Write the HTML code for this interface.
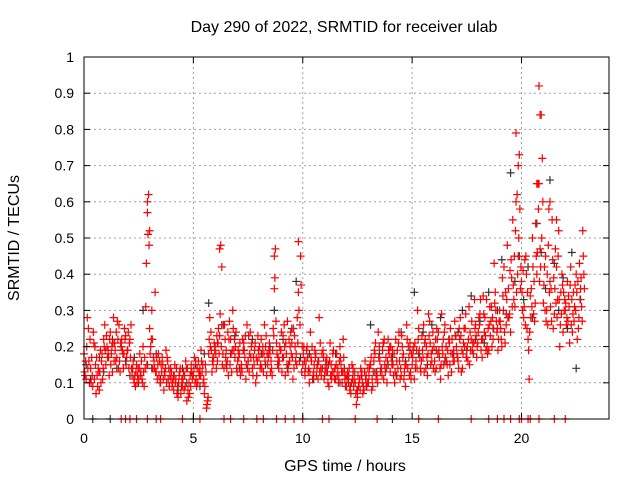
<!DOCTYPE html>
<html><head><meta charset="utf-8"><style>
body{margin:0;background:#fff}
svg text{font-family:"Liberation Sans",Arial,sans-serif;font-size:14px;fill:#000}
svg text.big{font-size:16px}
</style></head><body>
<svg id="chart" width="640" height="480" viewBox="0 0 640 480">
<rect width="640" height="480" fill="#fff"/>
<g id="grid"></g>
<g id="pts"></g>
<rect x="84" y="57" width="525" height="362" fill="none" stroke="#000" stroke-width="1"/>
<g id="axes"></g>
<text class="big" x="344" y="32" text-anchor="middle">Day 290 of 2022, SRMTID for receiver ulab</text>
<text class="big" x="345" y="471" text-anchor="middle">GPS time / hours</text>
<text class="big" transform="translate(19,238) rotate(-90)" text-anchor="middle">SRMTID / TECUs</text>
</svg>
<script>
const xTicks=[0,5,10,15,20];
const yTicks=[0,0.1,0.2,0.3,0.4,0.5,0.6,0.7,0.8,0.9,1];
const yTickLabels=["0","0.1","0.2","0.3","0.4","0.5","0.6","0.7","0.8","0.9","1"];
const redA=[.18,.11,.25,.14,.09,.20,.12,.08,.16,.22,.15,.19,.24,.13,.21,.17,.26,.20,.14,.23,.19,.22,.12,.10,.15,.11,.13,.20,.14,.57,.25,.30,.16,.13,.18,.10,.15,.12,.17,.09,.13,.08,.11,.06,.14,.09,.12,.05,.10,.15,.12,.16,.10,.14,.13,.07,.03,.18,.24,.15,.20,.16,.23,.42,.14,.19,.12,.22,.30,.17,.13,.18,.15,.21,.11,.16,.24,.14,.19,.12,.17,.22,.13,.20,.15,.18,.12,.36,.21,.14,.19,.23,.12,.27,.16,.21,.14,.18,.35,.45,.15,.12,.20,.10,.16,.13,.18,.11,.21,.14,.12,.17,.09,.15,.19,.11,.14,.20,.10,.13,.09,.12,.07,.14,.10,.06,.11,.13,.08,.12,.10,.15,.09,.18,.12,.20,.14,.11,.17,.22,.13,.19,.10,.16,.24,.12,.18,.09,.14,.21,.15,.11,.19,.25,.13,.17,.22,.12,.27,.16,.20,.14,.24,.11,.18,.26,.15,.21,.13,.19,.23,.16,.28,.14,.20,.17,.31,.22,.18,.26,.21,.29,.17,.24,.33,.19,.27,.22,.35,.25,.30,.20,.42,.26,.36,.24,.55,.31,.62,.73,.38,.28,.45,.22,.34,.50,.27,.40,.65,.84,.32,.45,.26,.38,.55,.29,.42,.52,.35,.24,.30,.38,.21,.33,.27,.40,.25,.36,.52];
const redB=[.12,.28,.10,.17,.21,.07,.14,.19,.11,.26,.20,.12,.18,.28,.16,.22,.13,.19,.25,.17,.14,.26,.16,.09,.12,.18,.11,.09,.43,.62,.20,.14,.35,.11,.16,.13,.08,.19,.11,.14,.10,.15,.07,.12,.09,.13,.16,.08,.12,.11,.17,.09,.13,.19,.10,.15,.05,.28,.13,.21,.14,.25,.48,.18,.22,.16,.27,.13,.19,.24,.19,.12,.22,.17,.26,.13,.20,.17,.10,.23,.14,.18,.26,.12,.19,.16,.25,.47,.15,.20,.13,.26,.18,.15,.24,.11,.20,.28,.16,.13,.20,.16,.13,.24,.11,.19,.14,.28,.12,.17,.16,.10,.21,.13,.11,.18,.12,.15,.22,.09,.13,.08,.15,.11,.04,.09,.14,.07,.16,.10,.14,.08,.16,.11,.24,.13,.19,.15,.10,.18,.17,.12,.22,.14,.11,.20,.13,.26,.17,.11,.19,.14,.30,.17,.23,.13,.20,.29,.15,.24,.13,.22,.17,.29,.15,.20,.12,.25,.18,.27,.18,.25,.13,.21,.29,.16,.24,.19,.33,.17,.28,.19,.34,.23,.18,.31,.20,.43,.27,.22,.25,.34,.21,.48,.29,.39,.33,.60,.45,.36,.30,.44,.25,.11,.36,.29,.54,.65,.47,.72,.42,.30,.58,.36,.25,.47,.33,.20,.40,.30,.26,.34,.42,.29,.37,.22,.43,.31,.40];
const redC=[.13,.20,.16,.10,.24,.15,.09,.13,.18,.20,.23,.17,.15,.21,.19,.27,.16,.22,.18,.15,.24,.17,.14,.12,.10,.14,.16,.13,.31,.51,.18,.22,.14,.17,.12,.15,.11,.14,.16,.12,.09,.12,.14,.10,.07,.11,.09,.14,.07,.13,.14,.11,.16,.12,.15,.09,.04,.22,.19,.17,.18,.21,.29,.15,.26,.14,.22,.18,.25,.20,.16,.21,.13,.19,.15,.23,.17,.12,.21,.16,.20,.14,.18,.23,.17,.13,.19,.39,.18,.16,.24,.17,.21,.13,.20,.17,.23,.15,.30,.37,.18,.14,.17,.13,.20,.15,.12,.16,.14,.19,.14,.13,.16,.11,.13,.15,.10,.17,.13,.11,.11,.14,.10,.09,.07,.12,.08,.10,.13,.09,.12,.17,.13,.21,.10,.16,.12,.22,.14,.19,.20,.15,.13,.19,.16,.23,.11,.15,.20,.13,.17,.21,.14,.19,.16,.26,.14,.18,.21,.19,.16,.25,.19,.15,.22,.17,.19,.15,.22,.16,.20,.14,.23,.18,.25,.20,.15,.27,.21,.23,.24,.33,.22,.28,.20,.26,.31,.25,.30,.19,.27,.39,.24,.33,.28,.44,.37,.52,.40,.58,.35,.31,.40,.19,.28,.42,.32,.46,.38,.50,.37,.27,.48,.31,.44,.36,.28,.33,.29,.35,.32,.27,.37,.24,.31,.35,.28,.39,.45];
const redD=[.16,.14,.22,.12,.11,.17,.13,.10,.14,.19,.17,.22,.20,.16,.24,.14,.21,.18,.22,.19,.21,.14,.11,.13,.14,.12,.10,.17,.15,.48,.22,.17,.13,.15,.10,.17,.13,.10,.14,.11,.11,.10,.09,.13,.11,.08,.14,.06,.09,.12,.10,.14,.12,.16,.11,.13,.06,.20,.16,.19,.23,.18,.20,.26,.17,.24,.15,.19,.22,.14,.17,.14,.19,.23,.14,.18,.21,.15,.17,.19,.15,.20,.16,.18,.21,.14,.23,.27,.17,.19,.17,.20,.15,.22,.18,.25,.16,.21,.26,.20,.16,.19,.14,.17,.12,.17,.15,.13,.18,.11,.13,.15,.12,.18,.14,.12,.16,.13,.17,.12,.12,.09,.11,.13,.08,.10,.12,.09,.11,.14,.15,.11,.19,.13,.17,.14,.21,.13,.16,.20,.15,.18,.12,.21,.14,.17,.15,.22,.12,.18,.20,.16,.22,.14,.19,.21,.17,.23,.18,.14,.22,.18,.14,.20,.24,.16,.22,.18,.16,.23,.17,.22,.19,.25,.17,.22,.19,.21,.25,.20,.26,.22,.29,.19,.25,.23,.28,.32,.24,.27,.22,.30,.35,.28,.41,.31,.45,.35,.50,.42,.41,.26,.35,.24,.31,.38,.45,.58,.42,.60,.30,.40,.35,.27,.39,.32,.45,.26,.37,.33,.28,.31,.26,.35,.30,.38,.33,.27,.36];
const blackV=[.15,.11,.20,.17,.13,.18,.22,.14,.20,.16,.12,.17,.10,.30,.15,.14,.18,.11,.13,.09,.12,.08,.14,.10,.13,.15,.09,.18,.32,.17,.21,.26,.15,.18,.23,.14,.19,.16,.22,.12,.18,.15,.20,.30,.16,.22,.14,.25,.38,.17,.13,.18,.11,.16,.14,.15,.12,.18,.10,.14,.10,.13,.08,.12,.09,.26,.13,.18,.21,.15,.17,.12,.24,.16,.19,.35,.18,.24,.15,.26,.19,.28,.16,.22,.18,.24,.30,.19,.34,.22,.27,.21,.35,.25,.30,.44,.29,.68,.38,.45,.33,.42,.28,.54,.46,.36,.66,.43,.30,.39,.25,.46,.14,.33];
const redSpikeT=[2.9,3.0,6.2,8.7,9.8,19.75,19.85,20.8,20.85,21.6,20.7,21.3];
const redSpikeV=[.60,.52,.47,.45,.49,.79,.70,.92,.84,.55,.65,.60];
const redZeroT=[1.7,1.9,2.1,2.4,2.9,3.3,3.5,4.5,5.3,6.4,6.7,7.3,7.9,8.2,8.8,9.2,9.6,10.0,10.9,11.2,12.4,13.4,15.3,16.2,17.7,18.5,18.9,19.2,19.5,19.9,20.0,20.3,20.4,20.8,21.5,22.0];
const blackZeroT=[0.4,1.2,5.0,14.1];
const X=t=>84+t*(525/24), Y=v=>419-v*362;
const NS='http://www.w3.org/2000/svg';
const grid=document.getElementById('grid'),axes=document.getElementById('axes'),pts=document.getElementById('pts');
function mk(tag,attrs,parent){const e=document.createElementNS(NS,tag);for(const k in attrs)e.setAttribute(k,attrs[k]);parent.appendChild(e);return e;}
xTicks.forEach(t=>{
 if(t>0){const g=mk('line',{x1:X(t),x2:X(t),y1:57,y2:419,stroke:'#a0a0a0','stroke-dasharray':'2,3'},grid);
 
 }
 mk('line',{x1:X(t),x2:X(t),y1:419,y2:413,stroke:'#000'},axes);
 mk('line',{x1:X(t),x2:X(t),y1:57,y2:63,stroke:'#000'},axes);
 const l=mk('text',{x:X(t),y:443,'text-anchor':'middle'},axes);l.textContent=t;
 
 
});
yTicks.forEach((v,i)=>{
 if(v>0&&v<1){const g=mk('line',{x1:84,x2:609,y1:Y(v),y2:Y(v),stroke:'#a0a0a0','stroke-dasharray':'2,3'},grid);
 
 }
 mk('line',{x1:84,x2:90,y1:Y(v),y2:Y(v),stroke:'#000'},axes);
 mk('line',{x1:603,x2:609,y1:Y(v),y2:Y(v),stroke:'#000'},axes);
 const l=mk('text',{x:74,y:Y(v)+5,'text-anchor':'end'},axes);l.textContent=yTickLabels[i];
 
 
});
function plus(t,v,c,name){const x=X(t),y=Y(v);
 const p=mk('path',{d:`M${x-4},${y}h8M${x},${y-4}v8`,stroke:c,'stroke-width':1.2,fill:'none'},pts);
 
 }
blackV.forEach((v,i)=>plus(0.1+i*0.2,v,'#333','black-point'));
blackZeroT.forEach(t=>plus(t,0,'#333','black-zero-point'));
redA.forEach((v,i)=>plus(i*0.1,v,'#ff0000','red-point'));
redB.forEach((v,i)=>plus(0.05+i*0.1,v,'#ff0000','red-point'));
redC.forEach((v,i)=>plus(0.025+i*0.1,v,'#ff0000','red-point'));
redD.forEach((v,i)=>plus(0.075+i*0.1,v,'#ff0000','red-point'));
redSpikeT.forEach((t,i)=>plus(t,redSpikeV[i],'#ff0000','red-spike-point'));
redZeroT.forEach(t=>plus(t,0,'#ff0000','red-zero-point'));
</script>
</body></html>
